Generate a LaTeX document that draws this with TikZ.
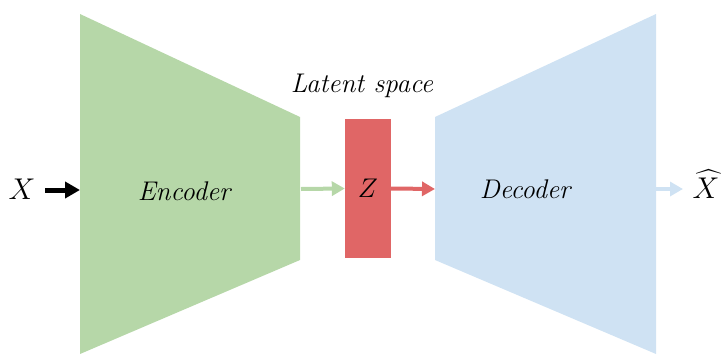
\RequirePackage{fix-cm}
\documentclass[tikz,border=0pt]{standalone}
\usepackage{amsmath}
\usetikzlibrary{arrows.meta}

\definecolor{encgreen}{HTML}{B6D7A8}
\definecolor{latred}{HTML}{E06666}
\definecolor{decblue}{HTML}{CFE2F3}

\begin{document}
\begin{tikzpicture}[x=1pt,y=-1pt,
    >={Triangle[length=13pt,width=14pt]},
    lbl/.style={font=\fontsize{27}{32}\selectfont, inner sep=0pt},
    sym/.style={font=\fontsize{30}{36}\selectfont, inner sep=0pt},
    flow/.style={->, line width=4pt},
]
    \useasboundingbox (0,0) rectangle (722,356);
    % the two funnels
    \fill[encgreen] (80,14) -- (300,117) -- (300,260) -- (80,354) -- cycle;
    \fill[decblue] (656,14) -- (435,117) -- (435,260) -- (656,354) -- cycle;
    \coordinate (enc-w) at (80,190);
    \coordinate (enc-e) at (301,189);
    \coordinate (dec-w) at (435,189);
    \coordinate (dec-e) at (656,189);
    \coordinate (dec-out) at (683,189);
    % labels and code block
    \node[sym] (x) at (22,189) {$X$};
    \node[lbl] (enc) at (185,191) {\textit{Encoder}};
    \node[lbl] (dec) at (526,189) {\textit{Decoder}};
    \node[lbl, fill=latred, minimum width=46pt, minimum height=139pt] (z) at (368,188.5) {$Z$};
    \node[lbl] (latent) at (362,86) {\textit{Latent space}};
    \node[sym] (xhat) at (706,184) {$\widehat{X}$};
    % connectors
    \draw[flow, black, line width=5pt, >={Triangle[length=15pt,width=16pt]}] (45,190) -- (enc-w);
    \draw[flow, encgreen] (enc-e) -- (z.west);
    \draw[flow, latred] (z.east) -- (dec-w);
    \draw[flow, decblue] (dec-e) -- (dec-out);
\end{tikzpicture}
\end{document}
